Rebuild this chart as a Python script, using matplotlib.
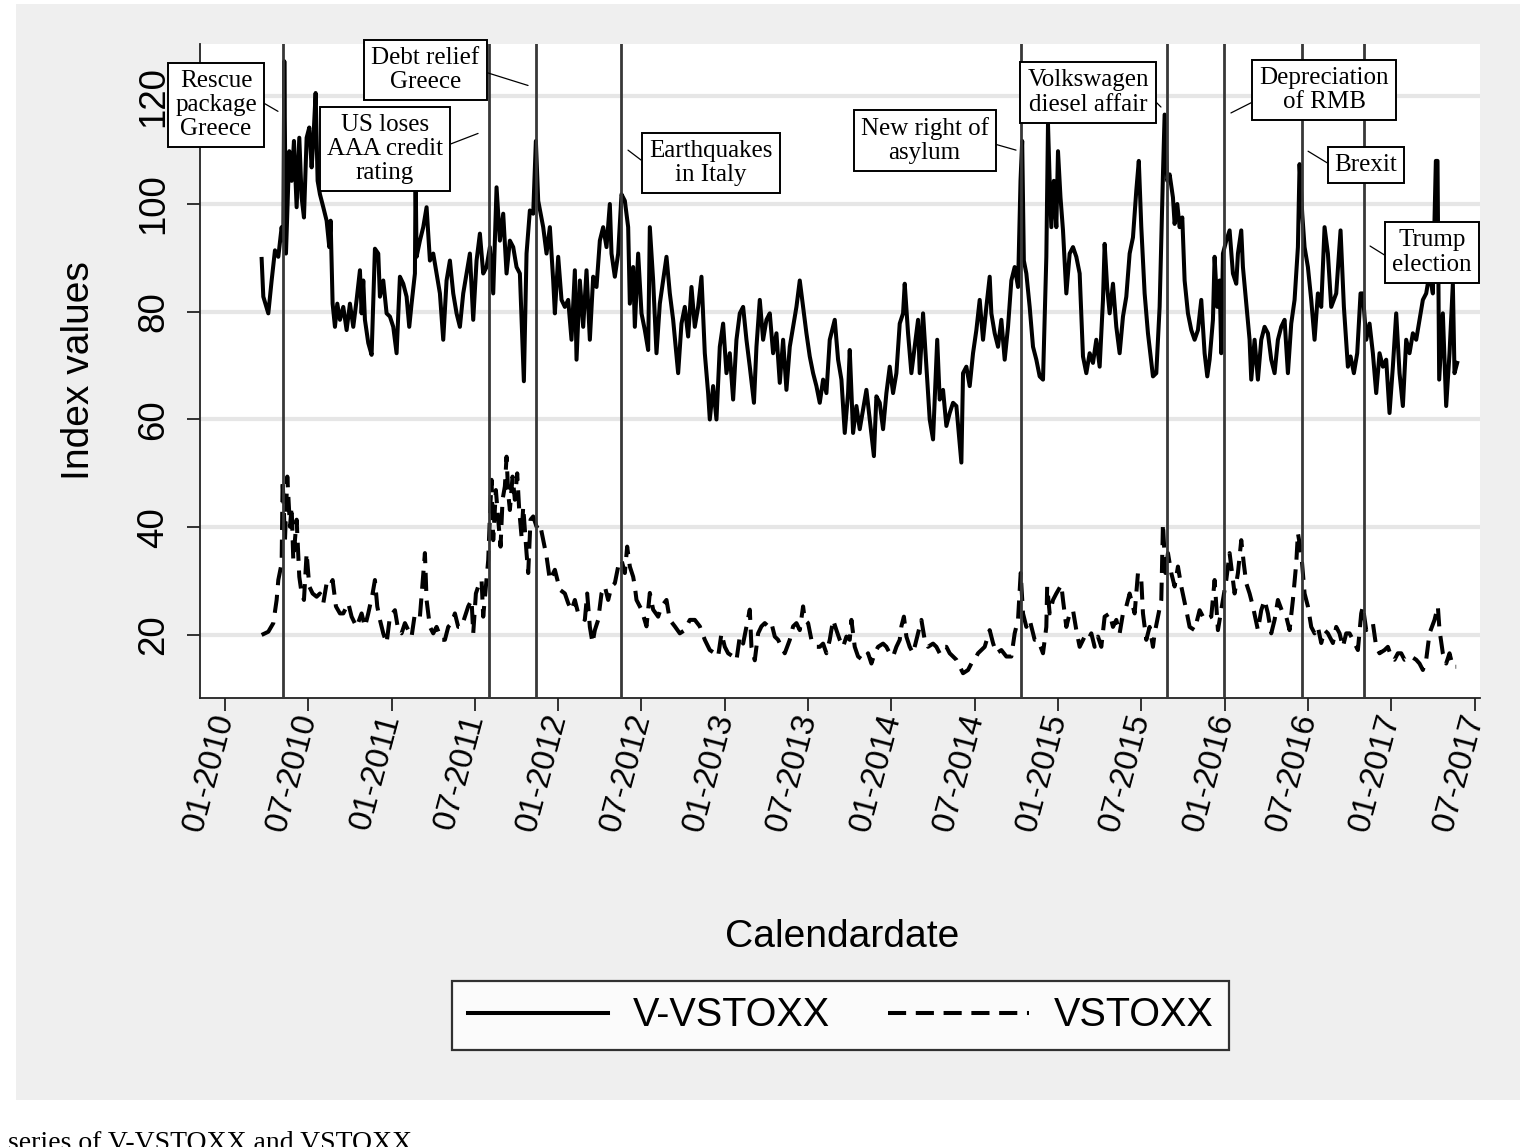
import matplotlib
matplotlib.use("Agg")
import matplotlib.pyplot as plt
from matplotlib import font_manager
from matplotlib.patches import Rectangle

# values: (decimal year, index value)
v_vstoxx = [
    (2010.22, 89.8), (2010.23, 82.8), (2010.26, 79.7), (2010.28, 85.8), (2010.30, 91.4),
    (2010.32, 90.2), (2010.34, 95.7), (2010.35, 93.2), (2010.356, 126.5), (2010.366, 90.8),
    (2010.386, 109.8), (2010.40, 104.3), (2010.414, 111.7), (2010.43, 99.4), (2010.446, 112.3),
    (2010.46, 101.2), (2010.474, 97.5), (2010.49, 112.3), (2010.506, 114.2), (2010.52, 106.8),
    (2010.53, 111.7), (2010.544, 120.6), (2010.556, 104.3), (2010.57, 101.8), (2010.59, 99.4),
    (2010.61, 96.9), (2010.626, 92.0), (2010.634, 96.9), (2010.646, 81.5), (2010.66, 77.2),
    (2010.674, 81.5), (2010.69, 78.5), (2010.71, 80.9), (2010.73, 76.6), (2010.75, 81.5),
    (2010.77, 77.2), (2010.79, 82.2), (2010.81, 87.7), (2010.82, 79.7), (2010.83, 85.8),
    (2010.84, 78.5), (2010.86, 74.2), (2010.88, 72.0), (2010.90, 91.7), (2010.92, 90.8),
    (2010.93, 82.8), (2010.95, 85.8), (2010.97, 79.7), (2010.99, 79.1), (2011.01, 77.2),
    (2011.03, 72.3), (2011.05, 86.5), (2011.07, 85.2), (2011.09, 82.8), (2011.106, 77.2),
    (2011.12, 81.5), (2011.14, 87.1), (2011.144, 106.0), (2011.15, 90.2), (2011.17, 93.2),
    (2011.19, 95.7), (2011.21, 99.4), (2011.23, 89.5), (2011.25, 90.8), (2011.27, 87.1),
    (2011.29, 83.4), (2011.31, 74.8), (2011.33, 85.8), (2011.35, 89.5), (2011.37, 83.4),
    (2011.39, 79.7), (2011.41, 77.2), (2011.43, 83.4), (2011.45, 87.1), (2011.47, 90.8),
    (2011.49, 78.5), (2011.51, 89.5), (2011.53, 94.5), (2011.55, 87.1), (2011.57, 88.3),
    (2011.59, 92.0), (2011.61, 83.4), (2011.63, 103.1), (2011.65, 93.2), (2011.67, 98.2),
    (2011.69, 87.1), (2011.71, 93.2), (2011.73, 92.0), (2011.75, 88.3), (2011.77, 87.1),
    (2011.794, 67.1), (2011.81, 90.8), (2011.83, 98.8), (2011.85, 98.2), (2011.866, 111.7),
    (2011.88, 100.6), (2011.91, 95.7), (2011.93, 90.8), (2011.95, 95.7), (2011.97, 85.8),
    (2011.98, 79.7), (2012.00, 90.2), (2012.02, 82.2), (2012.04, 80.9), (2012.06, 82.2),
    (2012.08, 74.8), (2012.10, 87.7), (2012.11, 71.1), (2012.13, 85.8), (2012.15, 77.2),
    (2012.17, 87.7), (2012.19, 74.8), (2012.21, 86.5), (2012.23, 84.6), (2012.25, 93.2),
    (2012.27, 95.7), (2012.29, 92.0), (2012.31, 100.0), (2012.32, 90.8), (2012.34, 86.5),
    (2012.36, 90.8), (2012.38, 101.8), (2012.40, 100.6), (2012.42, 95.7), (2012.43, 81.5),
    (2012.45, 88.3), (2012.46, 77.2), (2012.48, 90.8), (2012.50, 79.7), (2012.52, 76.6),
    (2012.54, 72.9), (2012.55, 95.7), (2012.57, 85.8), (2012.59, 72.3), (2012.61, 81.5),
    (2012.63, 85.8), (2012.65, 90.2), (2012.67, 83.4), (2012.69, 78.5), (2012.72, 68.6),
    (2012.74, 77.8), (2012.76, 80.9), (2012.78, 75.4), (2012.80, 84.6), (2012.82, 77.2),
    (2012.84, 80.9), (2012.86, 86.5), (2012.88, 72.3), (2012.90, 64.9), (2012.91, 60.0),
    (2012.93, 66.2), (2012.95, 60.0), (2012.97, 73.5), (2012.99, 77.8), (2013.01, 68.6),
    (2013.03, 72.3), (2013.05, 63.7), (2013.07, 74.8), (2013.09, 79.7), (2013.11, 80.9),
    (2013.13, 74.8), (2013.15, 69.8), (2013.175, 63.1), (2013.19, 73.5), (2013.21, 82.2),
    (2013.23, 74.8), (2013.25, 78.5), (2013.27, 79.7), (2013.29, 72.3), (2013.31, 76.0),
    (2013.33, 66.8), (2013.35, 74.8), (2013.37, 65.5), (2013.39, 73.5), (2013.41, 77.2),
    (2013.43, 80.9), (2013.45, 85.8), (2013.47, 80.9), (2013.49, 76.0), (2013.51, 71.7),
    (2013.53, 68.6), (2013.55, 66.2), (2013.57, 63.1), (2013.59, 67.4), (2013.61, 64.9),
    (2013.63, 74.8), (2013.66, 78.5), (2013.68, 71.1), (2013.70, 67.4), (2013.72, 57.5),
    (2013.74, 64.9), (2013.75, 72.9), (2013.77, 57.5), (2013.79, 62.5), (2013.81, 58.2),
    (2013.83, 61.8), (2013.85, 65.5), (2013.87, 60.0), (2013.895, 53.2), (2013.91, 64.3),
    (2013.93, 63.1), (2013.95, 58.2), (2013.97, 64.9), (2013.99, 69.8), (2014.01, 64.9),
    (2014.03, 68.6), (2014.05, 77.8), (2014.07, 79.7), (2014.08, 85.2), (2014.10, 76.0),
    (2014.12, 68.6), (2014.14, 73.5), (2014.16, 78.5), (2014.17, 68.6), (2014.19, 79.7),
    (2014.21, 69.8), (2014.23, 60.0), (2014.25, 56.3), (2014.275, 74.8), (2014.29, 63.7),
    (2014.31, 65.5), (2014.33, 58.8), (2014.35, 61.2), (2014.37, 63.1), (2014.39, 62.5),
    (2014.42, 52.0), (2014.43, 68.6), (2014.45, 69.8), (2014.47, 66.2), (2014.49, 72.3),
    (2014.51, 76.6), (2014.53, 82.2), (2014.55, 74.8), (2014.57, 80.9), (2014.59, 86.5),
    (2014.60, 79.7), (2014.62, 76.0), (2014.64, 73.5), (2014.66, 78.5), (2014.68, 71.1),
    (2014.70, 77.2), (2014.72, 85.8), (2014.74, 88.3), (2014.76, 84.6), (2014.775, 104.3),
    (2014.785, 111.7), (2014.795, 89.5), (2014.81, 87.1), (2014.83, 80.9), (2014.85, 73.5),
    (2014.87, 71.1), (2014.89, 68.0), (2014.91, 67.4), (2014.93, 90.2), (2014.94, 114.8),
    (2014.95, 104.3), (2014.96, 95.7), (2014.975, 104.3), (2014.99, 95.7), (2015.00, 109.8),
    (2015.015, 101.2), (2015.03, 95.1), (2015.05, 83.4), (2015.07, 90.8), (2015.09, 92.0),
    (2015.11, 90.2), (2015.13, 87.1), (2015.15, 71.7), (2015.17, 68.6), (2015.19, 72.3),
    (2015.21, 70.5), (2015.23, 74.8), (2015.25, 69.8), (2015.27, 82.2), (2015.28, 92.6),
    (2015.295, 84.6), (2015.31, 79.7), (2015.33, 85.2), (2015.35, 77.2), (2015.37, 72.3),
    (2015.39, 79.1), (2015.41, 82.8), (2015.43, 90.8), (2015.45, 93.8), (2015.47, 102.5),
    (2015.485, 108.0), (2015.50, 95.7), (2015.52, 83.4), (2015.54, 76.0), (2015.57, 68.0),
    (2015.59, 68.6), (2015.61, 80.9), (2015.63, 105.5), (2015.64, 116.6), (2015.656, 104.3),
    (2015.67, 105.5), (2015.69, 101.2), (2015.70, 96.3), (2015.716, 100.0), (2015.73, 95.7),
    (2015.746, 97.5), (2015.76, 85.8), (2015.78, 79.7), (2015.80, 76.6), (2015.82, 74.8),
    (2015.84, 76.6), (2015.86, 82.2), (2015.88, 72.3), (2015.896, 68.0), (2015.91, 71.1),
    (2015.93, 78.5), (2015.94, 90.2), (2015.956, 80.9), (2015.97, 85.8), (2015.98, 72.3),
    (2015.99, 90.8), (2016.01, 93.2), (2016.03, 95.1), (2016.05, 87.1), (2016.07, 85.2),
    (2016.08, 90.8), (2016.10, 95.1), (2016.11, 88.3), (2016.13, 81.5), (2016.15, 74.8),
    (2016.16, 67.4), (2016.18, 74.8), (2016.20, 67.4), (2016.22, 74.8), (2016.24, 77.2),
    (2016.26, 76.0), (2016.28, 71.1), (2016.30, 68.6), (2016.32, 74.8), (2016.34, 77.2),
    (2016.36, 78.5), (2016.38, 68.6), (2016.40, 77.8), (2016.42, 82.2), (2016.44, 92.0),
    (2016.45, 107.4), (2016.466, 98.2), (2016.48, 92.0), (2016.50, 88.3), (2016.52, 82.2),
    (2016.54, 74.8), (2016.56, 83.4), (2016.58, 80.9), (2016.60, 95.7), (2016.62, 90.8),
    (2016.64, 80.9), (2016.67, 83.4), (2016.696, 95.1), (2016.716, 80.9), (2016.74, 69.8),
    (2016.756, 71.7), (2016.776, 68.6), (2016.796, 72.3), (2016.816, 83.4), (2016.83, 83.4),
    (2016.85, 74.8), (2016.87, 77.8), (2016.89, 72.3), (2016.91, 64.9), (2016.93, 72.3),
    (2016.95, 69.8), (2016.97, 71.1), (2016.99, 61.2), (2017.01, 69.8), (2017.03, 79.7),
    (2017.05, 68.6), (2017.07, 62.5), (2017.09, 74.8), (2017.11, 72.3), (2017.13, 76.0),
    (2017.15, 74.8), (2017.17, 78.5), (2017.19, 82.2), (2017.21, 83.4), (2017.23, 87.1),
    (2017.25, 83.4), (2017.268, 108.0), (2017.278, 108.0), (2017.288, 67.4), (2017.31, 79.7),
    (2017.33, 62.5), (2017.35, 72.3), (2017.37, 85.2), (2017.38, 68.6), (2017.396, 70.5),
]

vstoxx = [
    (2010.22, 20.0), (2010.26, 20.6), (2010.29, 22.2), (2010.31, 26.5), (2010.32, 30.2),
    (2010.34, 33.3), (2010.346, 48.8), (2010.36, 37.6), (2010.374, 49.4), (2010.39, 40.1),
    (2010.40, 43.8), (2010.41, 33.9), (2010.43, 41.4), (2010.446, 30.8), (2010.46, 27.7),
    (2010.474, 26.5), (2010.49, 35.2), (2010.506, 29.0), (2010.526, 27.7), (2010.55, 27.1),
    (2010.57, 27.7), (2010.59, 25.9), (2010.61, 29.6), (2010.63, 29.0), (2010.646, 30.2),
    (2010.666, 25.3), (2010.69, 24.0), (2010.71, 24.0), (2010.74, 25.9), (2010.76, 23.4),
    (2010.79, 21.5), (2010.82, 24.0), (2010.84, 21.5), (2010.86, 24.0), (2010.886, 27.7),
    (2010.90, 30.2), (2010.914, 25.3), (2010.93, 22.8), (2010.95, 20.3), (2010.97, 18.5),
    (2010.99, 23.4), (2011.02, 24.6), (2011.04, 20.9), (2011.06, 20.3), (2011.08, 22.2),
    (2011.10, 20.9), (2011.12, 19.7), (2011.14, 24.0), (2011.17, 23.4), (2011.20, 35.2),
    (2011.21, 26.5), (2011.23, 21.5), (2011.25, 20.3), (2011.27, 21.5), (2011.30, 19.1),
    (2011.32, 19.1), (2011.34, 21.5), (2011.36, 22.2), (2011.38, 24.0), (2011.40, 21.5),
    (2011.42, 21.5), (2011.44, 23.4), (2011.46, 25.3), (2011.48, 26.5), (2011.49, 20.3),
    (2011.506, 27.7), (2011.52, 29.0), (2011.54, 30.2), (2011.55, 23.4), (2011.566, 29.0),
    (2011.58, 33.9), (2011.59, 42.0), (2011.60, 48.8), (2011.61, 37.6), (2011.626, 46.9),
    (2011.64, 41.4), (2011.654, 36.4), (2011.666, 45.1), (2011.68, 47.6), (2011.69, 53.1),
    (2011.70, 46.3), (2011.71, 43.2), (2011.726, 49.4), (2011.74, 45.1), (2011.754, 50.0),
    (2011.766, 43.2), (2011.78, 38.3), (2011.79, 43.8), (2011.81, 35.2), (2011.82, 31.5),
    (2011.834, 41.4), (2011.85, 42.0), (2011.87, 40.1), (2011.89, 40.7), (2011.91, 37.6),
    (2011.93, 34.6), (2011.95, 30.2), (2011.98, 32.1), (2012.01, 28.4), (2012.04, 27.7),
    (2012.06, 25.9), (2012.08, 24.6), (2012.10, 26.5), (2012.12, 24.0), (2012.14, 23.4),
    (2012.16, 22.8), (2012.174, 27.7), (2012.19, 21.5), (2012.206, 18.5), (2012.22, 20.9),
    (2012.24, 22.8), (2012.26, 27.7), (2012.28, 29.0), (2012.30, 26.5), (2012.32, 29.0),
    (2012.34, 29.6), (2012.36, 32.7), (2012.38, 33.9), (2012.40, 31.5), (2012.414, 36.4),
    (2012.43, 32.7), (2012.45, 30.8), (2012.46, 29.0), (2012.47, 26.5), (2012.50, 24.7),
    (2012.53, 21.6), (2012.55, 27.8), (2012.57, 24.7), (2012.60, 23.4), (2012.62, 25.3),
    (2012.65, 26.5), (2012.67, 22.8), (2012.70, 21.6), (2012.73, 20.3), (2012.76, 20.9),
    (2012.79, 22.8), (2012.82, 22.8), (2012.85, 21.6), (2012.88, 19.1), (2012.91, 17.2),
    (2012.94, 16.6), (2012.96, 16.0), (2012.98, 20.3), (2013.00, 17.8), (2013.02, 16.6),
    (2013.05, 16.0), (2013.07, 15.3), (2013.09, 19.7), (2013.11, 18.4), (2013.13, 21.6),
    (2013.15, 24.7), (2013.16, 17.8), (2013.18, 15.3), (2013.20, 20.3), (2013.22, 21.6),
    (2013.24, 22.2), (2013.26, 21.6), (2013.28, 22.2), (2013.30, 19.7), (2013.32, 19.1),
    (2013.34, 17.8), (2013.36, 16.6), (2013.39, 19.1), (2013.41, 21.6), (2013.43, 22.2),
    (2013.45, 20.9), (2013.47, 25.3), (2013.48, 22.8), (2013.50, 22.2), (2013.52, 19.1),
    (2013.55, 17.8), (2013.57, 17.8), (2013.59, 18.4), (2013.61, 16.6), (2013.63, 19.1),
    (2013.65, 22.8), (2013.67, 20.9), (2013.69, 19.1), (2013.71, 17.8), (2013.73, 19.7),
    (2013.75, 19.1), (2013.76, 22.8), (2013.78, 17.8), (2013.80, 16.0), (2013.83, 15.3),
    (2013.86, 16.6), (2013.88, 14.7), (2013.90, 16.6), (2013.92, 17.8), (2013.95, 18.4),
    (2013.97, 17.8), (2013.99, 16.6), (2014.01, 16.0), (2014.03, 17.8), (2014.05, 19.1),
    (2014.06, 21.6), (2014.075, 23.4), (2014.09, 19.7), (2014.11, 17.8), (2014.13, 16.6),
    (2014.15, 19.1), (2014.17, 21.6), (2014.18, 22.8), (2014.20, 19.1), (2014.22, 17.8),
    (2014.25, 18.4), (2014.27, 17.8), (2014.29, 16.6), (2014.31, 17.8), (2014.33, 17.8),
    (2014.35, 16.6), (2014.39, 15.4), (2014.43, 12.9), (2014.46, 13.5), (2014.48, 14.7),
    (2014.50, 15.4), (2014.52, 16.6), (2014.56, 17.8), (2014.59, 20.9), (2014.61, 18.5),
    (2014.63, 16.6), (2014.66, 17.2), (2014.69, 16.0), (2014.72, 16.0), (2014.74, 20.3),
    (2014.76, 22.8), (2014.776, 31.5), (2014.79, 24.0), (2014.81, 21.5), (2014.83, 22.8),
    (2014.86, 19.1), (2014.88, 19.1), (2014.91, 16.6), (2014.93, 21.5), (2014.935, 29.0),
    (2014.95, 24.0), (2014.97, 26.5), (2014.99, 27.7), (2015.02, 29.3), (2015.03, 26.5),
    (2015.05, 21.5), (2015.07, 24.0), (2015.09, 24.6), (2015.11, 20.9), (2015.13, 17.8),
    (2015.16, 19.7), (2015.18, 19.1), (2015.20, 20.3), (2015.22, 17.8), (2015.24, 19.7),
    (2015.26, 17.8), (2015.28, 23.4), (2015.31, 24.0), (2015.33, 21.5), (2015.35, 22.8),
    (2015.37, 20.3), (2015.39, 24.0), (2015.41, 25.3), (2015.43, 27.7), (2015.46, 24.0),
    (2015.48, 31.5), (2015.50, 30.2), (2015.51, 24.0), (2015.53, 19.1), (2015.55, 21.5),
    (2015.57, 17.8), (2015.58, 20.3), (2015.62, 26.5), (2015.63, 40.7), (2015.645, 31.5),
    (2015.66, 35.2), (2015.68, 31.5), (2015.70, 29.0), (2015.72, 32.7), (2015.74, 29.0),
    (2015.77, 24.6), (2015.79, 21.5), (2015.82, 20.9), (2015.85, 24.6), (2015.88, 22.8),
    (2015.92, 23.4), (2015.94, 30.2), (2015.96, 20.9), (2015.99, 26.5), (2016.01, 30.2),
    (2016.03, 35.2), (2016.06, 27.7), (2016.08, 31.5), (2016.10, 37.6), (2016.115, 33.3),
    (2016.13, 29.6), (2016.15, 27.7), (2016.17, 25.3), (2016.20, 20.9), (2016.22, 24.6),
    (2016.24, 26.5), (2016.26, 24.0), (2016.28, 20.3), (2016.30, 22.8), (2016.32, 26.5),
    (2016.35, 24.0), (2016.37, 23.4), (2016.39, 20.9), (2016.41, 26.5), (2016.43, 33.3),
    (2016.44, 38.9), (2016.46, 35.2), (2016.48, 27.7), (2016.50, 25.3), (2016.52, 21.5),
    (2016.54, 20.3), (2016.56, 21.5), (2016.58, 18.5), (2016.60, 20.9), (2016.62, 20.3),
    (2016.65, 18.5), (2016.67, 21.5), (2016.69, 20.3), (2016.71, 17.8), (2016.73, 20.3),
    (2016.75, 20.3), (2016.77, 19.1), (2016.80, 17.2), (2016.82, 24.0), (2016.83, 25.3),
    (2016.85, 20.9), (2016.87, 21.5), (2016.89, 22.2), (2016.91, 17.8), (2016.93, 16.6),
    (2016.96, 17.2), (2016.98, 17.8), (2017.00, 16.0), (2017.02, 15.4), (2017.04, 16.6),
    (2017.06, 16.6), (2017.08, 15.4), (2017.12, 16.0), (2017.15, 15.4), (2017.17, 14.7),
    (2017.19, 13.5), (2017.21, 15.4), (2017.23, 20.3), (2017.26, 22.8), (2017.28, 25.3),
    (2017.29, 20.9), (2017.31, 16.6), (2017.33, 14.7), (2017.35, 16.6), (2017.37, 14.1),
    (2017.39, 14.1),
]

event_dates = [2010.348, 2011.585, 2011.867, 2012.374, 2014.775,
               2015.654, 2015.997, 2016.462, 2016.834]
event_labels = ["Rescue\npackage\nGreece", "US loses\nAAA credit\nrating",
                "Debt relief\nGreece", "Earthquakes\nin Italy", "New right of\nasylum",
                "Volkswagen\ndiesel affair", "Depreciation\nof RMB", "Brexit",
                "Trump\nelection"]

# where each label box sits, where its leader ends, where the leader leaves the box
label_xy = [(2009.946, 118.3), (2010.960, 110.2), (2011.203, 124.9), (2012.917, 107.6),
            (2014.199, 111.8), (2015.180, 120.7), (2016.597, 121.1), (2016.849, 107.2),
            (2017.245, 91.0)]
leader_end = [(2010.318, 117.2), (2011.519, 113.1), (2011.819, 122.0), (2012.419, 110.0),
              (2014.748, 110.0), (2015.618, 118.0), (2016.038, 116.9), (2016.501, 109.8),
              (2016.873, 92.2)]
leader_rel = [(1, 0.59), (1, 0.53), (1, 0.49), (0, 0.43), (1, 0.46),
              (1, 0.45), (0, 0.32), (0, 0.40), (0, 0.34)]

tick_years = [2010 + 0.5 * i for i in range(16)]
tick_labels = [("01-" if i % 2 == 0 else "07-") + str(2010 + i // 2) for i in range(16)]

W, H = 1534, 1147

names = {f.name for f in font_manager.fontManager.ttflist}
if "Liberation Sans Narrow" in names:
    SANS, k = "Liberation Sans Narrow", 1.0
else:
    SANS, k = "Liberation Sans", 0.85
plt.rcParams["font.family"] = SANS

fig = plt.figure(figsize=(W / 100, H / 100), dpi=100)
fig.add_artist(Rectangle((16 / W, 1 - 1100 / H), (1520 - 16) / W, (1100 - 4) / H,
                         transform=fig.transFigure, facecolor="#efefef",
                         edgecolor="none", zorder=0))

ax = fig.add_axes([200 / W, 1 - 698 / H, 1280 / W, 654 / H])
ax.set_facecolor("white")
for s in ("top", "right"):
    ax.spines[s].set_visible(False)
for s in ("left", "bottom"):
    ax.spines[s].set_linewidth(1.3)
    ax.spines[s].set_color("#222222")

ax.set_xlim(2009.85, 2017.533)
ax.set_ylim(8.3, 129.7)
ax.set_yticks(range(20, 121, 20))
ax.yaxis.grid(True, color="#e6e6e6", lw=3)
ax.set_axisbelow(True)

ax.set_xticks(tick_years)
ax.set_xticklabels(tick_labels, rotation=75, ha="right", va="center",
                   rotation_mode="anchor")
ax.tick_params(length=9.5, width=1.3, color="#222222")
ax.tick_params(axis="y", pad=11, labelsize=31 * k, labelrotation=90)
ax.tick_params(axis="x", pad=2, labelsize=28 * k)
for lab in ax.get_yticklabels():
    lab.set_va("center")

ax.set_ylabel("Index values", fontsize=33 * k, va="center", ha="center")
ax.yaxis.set_label_coords(-0.0945, 0.5)
ax.set_xlabel("Calendardate", fontsize=33 * k, va="center", ha="center")
ax.xaxis.set_label_coords(0.502, -0.365)

ax.plot([p[0] for p in v_vstoxx], [p[1] for p in v_vstoxx], color="black",
        lw=2.9, label="V-VSTOXX", zorder=3)
ax.plot([p[0] for p in vstoxx], [p[1] for p in vstoxx], color="black",
        lw=2.9, ls=(0, (4.5, 2.4)), label="VSTOXX", zorder=3)

for d in event_dates:
    ax.axvline(d, color="#383838", lw=2.0, zorder=4)

for text, pos, end, rel in zip(event_labels, label_xy, leader_end, leader_rel):
    ax.annotate(text, xy=end, xytext=pos, ha="center", va="center",
                multialignment="center", family="Liberation Serif", fontsize=18,
                linespacing=1.12,
                bbox=dict(boxstyle="square,pad=0.28", fc="white", ec="black", lw=1.4),
                arrowprops=dict(arrowstyle="-", lw=0.9, color="black", relpos=rel,
                                shrinkA=0, shrinkB=0),
                zorder=6, annotation_clip=False)

leg = fig.legend(loc="center", bbox_to_anchor=(840.5 / W, 1 - 1015.5 / H), ncol=2,
                 fontsize=28.5, frameon=True, fancybox=False, edgecolor="black",
                 handlelength=3.55, handletextpad=0.63, columnspacing=1.46,
                 borderpad=0.4)
leg.get_frame().set_linewidth(1.6)

fig.text(8 / W, 1 - 1131 / H, "series of V-VSTOXX and VSTOXX",
         family="Liberation Serif", fontsize=20, va="top", ha="left")

fig.savefig("out.png", dpi=100)
